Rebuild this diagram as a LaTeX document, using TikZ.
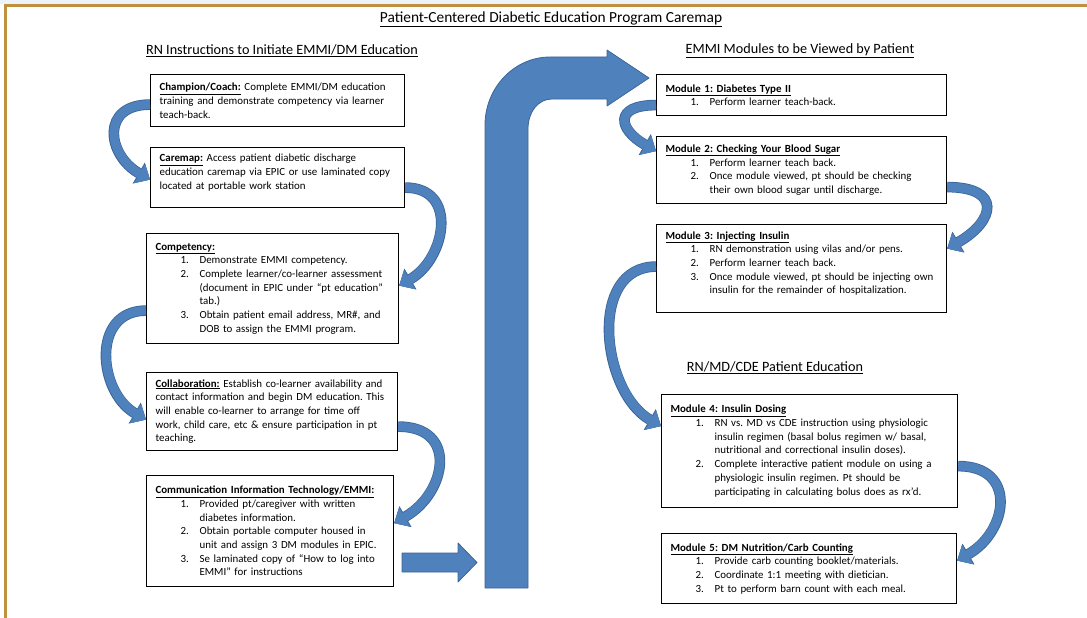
\documentclass[tikz,border=0pt]{standalone}
\usepackage{fontspec}
\setmainfont{Carlito}
\usepackage{xcolor}
\usetikzlibrary{calc}
\usetikzlibrary{arrows.meta}
\definecolor{arrowblue}{HTML}{4F81BD}
\definecolor{arrowedge}{HTML}{3A6597}
\definecolor{framegold}{HTML}{C0913C}
\definecolor{topstrip}{HTML}{EEF3F9}
\frenchspacing
\newcommand{\numln}[2]{\hspace*{25pt}\makebox[19pt][l]{#1}\mbox{#2}}
\newcommand{\contln}[1]{\hspace*{44pt}\mbox{#1}}
\newcommand{\boxhead}[1]{\underline{\textbf{#1}}}
\tikzset{
	box/.style={draw, line width=1.2pt, fill=white, anchor=north west, align=left,
			inner xsep=9pt, inner ysep=4pt, font=\fontsize{10.9}{13.7}\selectfont},
	heading/.style={font=\fontsize{14.2}{16}\selectfont},
	curvy/.style={draw=arrowblue, line width=9pt,
			-{Triangle[width=22pt,length=12pt,line width=0.4pt]},
			preaction={draw=arrowedge, line width=10.6pt,
					-{Triangle[width=24pt,length=13pt,line width=0.4pt]}}},
	blockarrow/.style={fill=arrowblue, draw=arrowedge, line width=0.8pt, line join=round}
}
\begin{document}
\begin{tikzpicture}[x=1pt, y=-1pt]
	\useasboundingbox (0,0) rectangle (1087,618);
	\fill[topstrip] (0,0) rectangle (1087,4);
	\fill[framegold] (4,4) rectangle (1087,7);
	\fill[framegold] (4,4) rectangle (7,618);

	\node[font=\fontsize{15.4}{17}\selectfont] (title) at (551,19) {\underline{Patient-Centered Diabetic Education Program Caremap}};
	\node[heading] (hleft) at (282,51) {\underline{RN Instructions to Initiate EMMI/DM Education}};
	\node[heading] (hright) at (800,51) {\underline{EMMI Modules to be Viewed by Patient}};
	\node[heading] (hcde) at (775,368) {\underline{RN/MD/CDE Patient Education}};

	\node[box, text width=236pt, minimum height=52pt] (champ) at (150,74)
		{\mbox{\boxhead{Champion/Coach:} Complete EMMI/DM education}\\
		 \mbox{training and demonstrate competency via learner}\\
		 teach-back.};
	\node[box, text width=236pt, minimum height=60pt] (caremap) at (150,147)
		{\mbox{\boxhead{Caremap:} Access patient diabetic discharge}\\
		 \mbox{education caremap via EPIC or use laminated copy}\\
		 \mbox{located at portable work station}\\[-2pt] \mbox{}};
	\node[box, text width=234pt, minimum height=110pt] (comp) at (146,233)
		{\boxhead{Competency:}\\
		 \numln{1.}{Demonstrate EMMI competency.}\\
		 \numln{2.}{Complete learner/co-learner assessment}\\
		 \contln{(document in EPIC under “pt education”}\\
		 \contln{tab.)}\\
		 \numln{3.}{Obtain patient email address, MR\#, and}\\
		 \contln{DOB to assign the EMMI program.}};
	\node[box, text width=233pt, minimum height=78pt] (collab) at (146,372)
		{\mbox{\boxhead{Collaboration:} Establish co-learner availability and}\\
		 \mbox{contact information and begin DM education. This}\\
		 \mbox{will enable co-learner to arrange for time off}\\
		 \mbox{work, child care, etc \& ensure participation in pt}\\
		 teaching.};
	\node[box, text width=229pt, minimum height=111pt] (comm) at (146,475)
		{\boxhead{Communication Information Technology/EMMI:}\\
		 \numln{1.}{Provided pt/caregiver with written}\\
		 \contln{diabetes information.}\\
		 \numln{2.}{Obtain portable computer housed in}\\
		 \contln{unit and assign 3 DM modules in EPIC.}\\
		 \numln{3.}{Se laminated copy of “How to log into}\\
		 \contln{EMMI” for instructions}};

	\node[box, text width=272pt, minimum height=41pt] (mod1) at (656,74)
		{\boxhead{Module 1: Diabetes Type II}\\
		 \numln{1.}{Perform learner teach-back.}};
	\node[box, text width=272pt, minimum height=67pt] (mod2) at (656,136)
		{\boxhead{Module 2: Checking Your Blood Sugar}\\
		 \numln{1.}{Perform learner teach back.}\\
		 \numln{2.}{Once module viewed, pt should be checking}\\
		 \contln{their own blood sugar until discharge.}};
	\node[box, text width=272pt, minimum height=88pt] (mod3) at (656,224)
		{\boxhead{Module 3: Injecting Insulin}\\
		 \numln{1.}{RN demonstration using vilas and/or pens.}\\
		 \numln{2.}{Perform learner teach back.}\\
		 \numln{3.}{Once module viewed, pt should be injecting own}\\
		 \contln{insulin for the remainder of hospitalization.}\\[-2pt] \mbox{}};
	\node[box, text width=278pt, minimum height=113pt] (mod4) at (661,394)
		{\boxhead{Module 4: Insulin Dosing}\\
		 \numln{1.}{RN vs. MD vs CDE instruction using physiologic}\\
		 \contln{insulin regimen (basal bolus regimen w/ basal,}\\
		 \contln{nutritional and correctional insulin doses).}\\
		 \numln{2.}{Complete interactive patient module on using a}\\
		 \contln{physiologic insulin regimen. Pt should be}\\
		 \contln{participating in calculating bolus does as rx’d.}};
	\node[box, text width=277pt, minimum height=70pt] (mod5) at (661,533)
		{\boxhead{Module 5: DM Nutrition/Carb Counting}\\
		 \numln{1.}{Provide carb counting booklet/materials.}\\
		 \numln{2.}{Coordinate 1:1 meeting with dietician.}\\
		 \numln{3.}{Pt to perform barn count with each meal.}};

	\filldraw[blockarrow] (485,588) -- (485,125) .. controls (485,88) and (514,57) .. (550,57)
		-- (607,57) -- (607,50) -- (649,78) -- (607,106) -- (607,99) -- (552,99)
		.. controls (538,99) and (528,112) .. (528,129) -- (528,588) -- cycle;
	\filldraw[blockarrow] (402,553) -- (458,553) -- (458,543) -- (477,562.5) -- (458,582)
		-- (458,572) -- (402,572) -- cycle;

	\draw[curvy] ($(champ.west)+(0,4)$) to[out=180, in=150, looseness=1.7] ($(caremap.west)+(0,2)$);
	\draw[curvy] ($(caremap.east)+(0,10)$) to[out=0, in=30, looseness=1.4] ($(comp.east)+(0,-3)$);
	\draw[curvy] ($(comp.west)+(0,22)$) to[out=180, in=150, looseness=1.3] ($(collab.west)+(0,8)$);
	\draw[curvy] ($(collab.east)+(0,15)$) to[out=0, in=30, looseness=1.6] ($(comm.east)+(0,-8)$);
	\draw[curvy] ($(mod1.west)+(0,10)$) to[out=180, in=150, looseness=2.4] ($(mod2.west)+(0,-19)$);
	\draw[curvy] ($(mod2.east)+(0,17)$) to[out=0, in=30, looseness=2.3] ($(mod3.east)+(0,-20)$);
	\draw[curvy] ($(mod3.west)+(0,-2)$) to[out=180, in=150, looseness=1.1] ($(mod4.west)+(0,-25)$);
	\draw[curvy] ($(mod4.east)+(0,15)$) to[out=0, in=30, looseness=1.6] ($(mod5.east)+(0,-8)$);
\end{tikzpicture}
\end{document}
